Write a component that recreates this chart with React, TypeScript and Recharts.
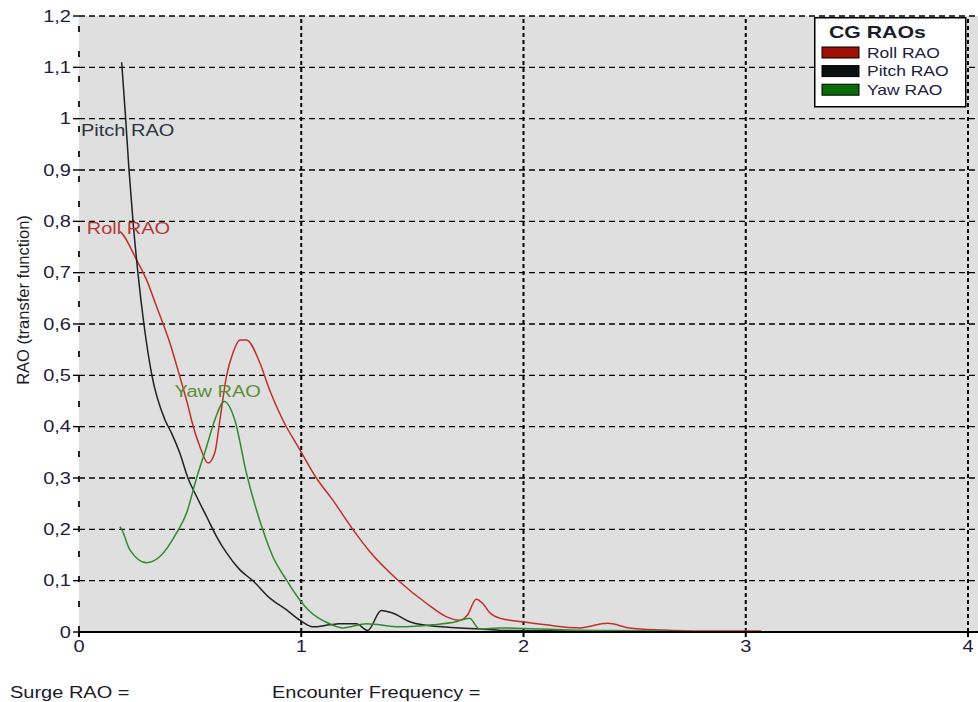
import React from 'react';
import { LineChart, Line, XAxis, YAxis, CartesianGrid, ReferenceLine, ReferenceDot } from 'recharts';

// ---- data ----
const pitchFreq = [0.192, 0.21, 0.225, 0.243, 0.265, 0.292, 0.328, 0.387, 0.417, 0.454, 0.49, 0.529, 0.574, 0.619, 0.664, 0.724, 0.782, 0.859, 0.934, 0.994, 1.052, 1.128, 1.169, 1.248, 1.299, 1.36, 1.411, 1.488, 1.546, 1.712, 1.802, 1.9, 2.2, 2.5, 2.7];
const pitchRao = [1.11, 1.0, 0.9, 0.8, 0.7, 0.6, 0.5, 0.413, 0.387, 0.348, 0.3, 0.264, 0.225, 0.186, 0.154, 0.121, 0.1, 0.066, 0.043, 0.023, 0.01, 0.014, 0.016, 0.016, 0.003, 0.042, 0.037, 0.02, 0.014, 0.008, 0.006, 0.003, 0.002, 0.001, 0.001];

const rollFreq = [0.184, 0.192, 0.259, 0.304, 0.349, 0.409, 0.454, 0.499, 0.506, 0.544, 0.581, 0.611, 0.634, 0.663, 0.692, 0.724, 0.753, 0.814, 0.858, 0.917, 0.994, 1.068, 1.142, 1.232, 1.308, 1.443, 1.563, 1.652, 1.712, 1.748, 1.787, 1.816, 1.847, 1.892, 1.995, 2.1, 2.252, 2.378, 2.476, 2.625, 2.8, 3.07];
const rollRao = [0.78, 0.777, 0.725, 0.686, 0.634, 0.563, 0.497, 0.426, 0.413, 0.361, 0.329, 0.349, 0.413, 0.497, 0.543, 0.569, 0.569, 0.524, 0.471, 0.413, 0.355, 0.3, 0.257, 0.2, 0.157, 0.098, 0.056, 0.03, 0.023, 0.033, 0.064, 0.056, 0.038, 0.027, 0.02, 0.014, 0.008, 0.017, 0.008, 0.004, 0.002, 0.002];

const yawFreq = [0.184, 0.192, 0.229, 0.304, 0.364, 0.439, 0.484, 0.529, 0.574, 0.611, 0.654, 0.701, 0.753, 0.827, 0.872, 0.934, 0.994, 1.039, 1.128, 1.187, 1.293, 1.443, 1.591, 1.697, 1.757, 1.802, 1.892, 2.2, 2.6, 2.7];
const yawRao = [0.205, 0.2, 0.16, 0.135, 0.147, 0.193, 0.232, 0.3, 0.361, 0.413, 0.449, 0.413, 0.31, 0.199, 0.147, 0.101, 0.062, 0.04, 0.016, 0.008, 0.016, 0.01, 0.014, 0.02, 0.027, 0.006, 0.008, 0.004, 0.002, 0.001];

const yTicks = [0, 0.1, 0.2, 0.3, 0.4, 0.5, 0.6, 0.7, 0.8, 0.9, 1.0, 1.1, 1.2];
const yTickLabels = ['0', '0,1', '0,2', '0,3', '0,4', '0,5', '0,6', '0,7', '0,8', '0,9', '1', '1,1', '1,2'];
const xTicks = [0, 1, 2, 3, 4];
const xTickLabels = ['0', '1', '2', '3', '4'];
const xGridValues = [1, 2, 3, 4];

const seriesNames = ['Roll RAO', 'Pitch RAO', 'Yaw RAO'];
const lineColors = ['#c0302a', '#1e2222', '#2e8b2e'];
const swatchColors = ['#9e0f05', '#0a1010', '#0b6b0b'];
const labelColors = ['#b23a3a', '#2c3440', '#5a8f32'];
// inline label anchor positions in data units (frequency, RAO)
const labelFreq = [0.035, 0.009, 0.43];
const labelRao = [0.775, 0.967, 0.458];

const zip = (xs: number[], ys: number[]) => xs.map((x, i) => ({ x, y: ys[i] }));
const rollData = zip(rollFreq, rollRao);
const pitchData = zip(pitchFreq, pitchRao);
const yawData = zip(yawFreq, yawRao);

const FONT = 'Arial, "Liberation Sans", sans-serif';
const SX = 1.25;

const YTick = (props: any) => {
  const { x, y, payload, index } = props;
  const i = yTicks.findIndex((v) => Math.abs(v - payload.value) < 1e-6);
  return (
    <g transform={`translate(${x},${y})`}>
      <text transform={`scale(${SX},1)`} textAnchor="end" dy="0.36em" fontSize={16} fontFamily={FONT} fill="#241c3c">
        {yTickLabels[i >= 0 ? i : index]}
      </text>
    </g>
  );
};

const XTick = (props: any) => {
  const { x, y, payload, index } = props;
  const i = xTicks.indexOf(payload.value);
  return (
    <g transform={`translate(${x},${y})`}>
      <text transform={`scale(${SX},1)`} textAnchor="middle" dy="0.72em" fontSize={16} fontFamily={FONT} fill="#241c3c">
        {xTickLabels[i >= 0 ? i : index]}
      </text>
    </g>
  );
};

const makeLabelShape = (text: string, color: string) => (props: any) => {
  const { cx, cy } = props;
  return (
    <g transform={`translate(${cx},${cy})`}>
      <text transform={`scale(${SX},1)`} fontSize={16} fontFamily={FONT} fill={color}>
        {text}
      </text>
    </g>
  );
};

const LegendBox = () => (
  <svg width={154} height={92} style={{ display: 'block' }}>
    <rect x={0.75} y={0.75} width={151} height={89} fill="#fff" stroke="#000" strokeWidth={1.5} />
    <g transform="translate(15,21)">
      <text transform={`scale(${SX},1)`} fontSize={17} fontWeight="bold" fontFamily={FONT} fill="#1a1a2a">
        CG RAOs
      </text>
    </g>
    {seriesNames.map((n, i) => (
      <g key={n}>
        <rect x={8} y={30 + i * 18.6} width={37} height={11} fill={swatchColors[i]} stroke="#000" strokeWidth={1} />
        <g transform={`translate(53,${40.5 + i * 18.6})`}>
          <text transform={`scale(${SX},1)`} fontSize={14} fontFamily={FONT} fill="#1c2040">
            {n}
          </text>
        </g>
      </g>
    ))}
  </svg>
);

const YLabel = (props: any) => {
  const { viewBox } = props;
  const cy = viewBox.y + viewBox.height / 2 - 24;
  const cx = 23;
  return (
    <text x={cx} y={cy} transform={`rotate(-90,${cx},${cy})`} textAnchor="middle" dominantBaseline="central" fontSize={16.5} fontFamily={FONT} fill="#1a1a2a">
      RAO (transfer function)
    </text>
  );
};

export default function App() {
  return (
    <div style={{ position: 'absolute', left: 0, top: 0, width: 978, height: 702, background: '#fff' }}>
      <LineChart width={978} height={702} margin={{ top: 16, right: 0, bottom: 0, left: 0 }}>
        <CartesianGrid
          vertical={false}
          horizontal={true}
          stroke="#000"
          strokeDasharray="6 4"
          strokeWidth={1.4}
          fill="#dfdfdf"
          fillOpacity={1}
        />
        <XAxis
          type="number"
          dataKey="x"
          domain={[0, 4.045]}
          ticks={xTicks}
          allowDataOverflow
          height={70}
          tick={<XTick />}
          tickSize={5}
          tickMargin={3}
          axisLine={{ stroke: '#000', strokeWidth: 2 }}
          tickLine={{ stroke: '#000', strokeWidth: 2 }}
        />
        <YAxis
          type="number"
          dataKey="y"
          domain={[0, 1.2]}
          ticks={yTicks}
          allowDataOverflow
          width={79}
          tick={<YTick />}
          tickSize={6}
          tickMargin={2}
          axisLine={false}
          tickLine={{ stroke: '#000', strokeWidth: 1.4 }}
          label={<YLabel />}
        />
        <ReferenceLine x={0} stroke="#222" strokeWidth={2} strokeDasharray="6 19" />
        {xGridValues.map((v) => (
          <ReferenceLine key={v} x={v} stroke="#000" strokeWidth={2} strokeDasharray="4 3" />
        ))}
        <Line data={rollData} dataKey="y" name={seriesNames[0]} type="monotone" stroke={lineColors[0]} strokeWidth={1.5} dot={false} isAnimationActive={false} />
        <Line data={pitchData} dataKey="y" name={seriesNames[1]} type="monotone" stroke={lineColors[1]} strokeWidth={1.5} dot={false} isAnimationActive={false} />
        <Line data={yawData} dataKey="y" name={seriesNames[2]} type="monotone" stroke={lineColors[2]} strokeWidth={1.5} dot={false} isAnimationActive={false} />
        {seriesNames.map((n, i) => (
          <ReferenceDot key={n} x={labelFreq[i]} y={labelRao[i]} r={0} shape={makeLabelShape(n, labelColors[i])} />
        ))}
      </LineChart>
      <div style={{ position: 'absolute', left: 814, top: 17 }}>
        <LegendBox />
      </div>
      <div style={{ position: 'absolute', left: 10, top: 684, fontFamily: FONT, fontSize: 16, color: '#1a1a2a', transform: `scaleX(${SX})`, transformOrigin: 'left top', whiteSpace: 'nowrap' }}>
        Surge RAO =
      </div>
      <div style={{ position: 'absolute', left: 272, top: 684, fontFamily: FONT, fontSize: 16, color: '#1a1a2a', transform: `scaleX(${SX})`, transformOrigin: 'left top', whiteSpace: 'nowrap' }}>
        Encounter Frequency =
      </div>
    </div>
  );
}
